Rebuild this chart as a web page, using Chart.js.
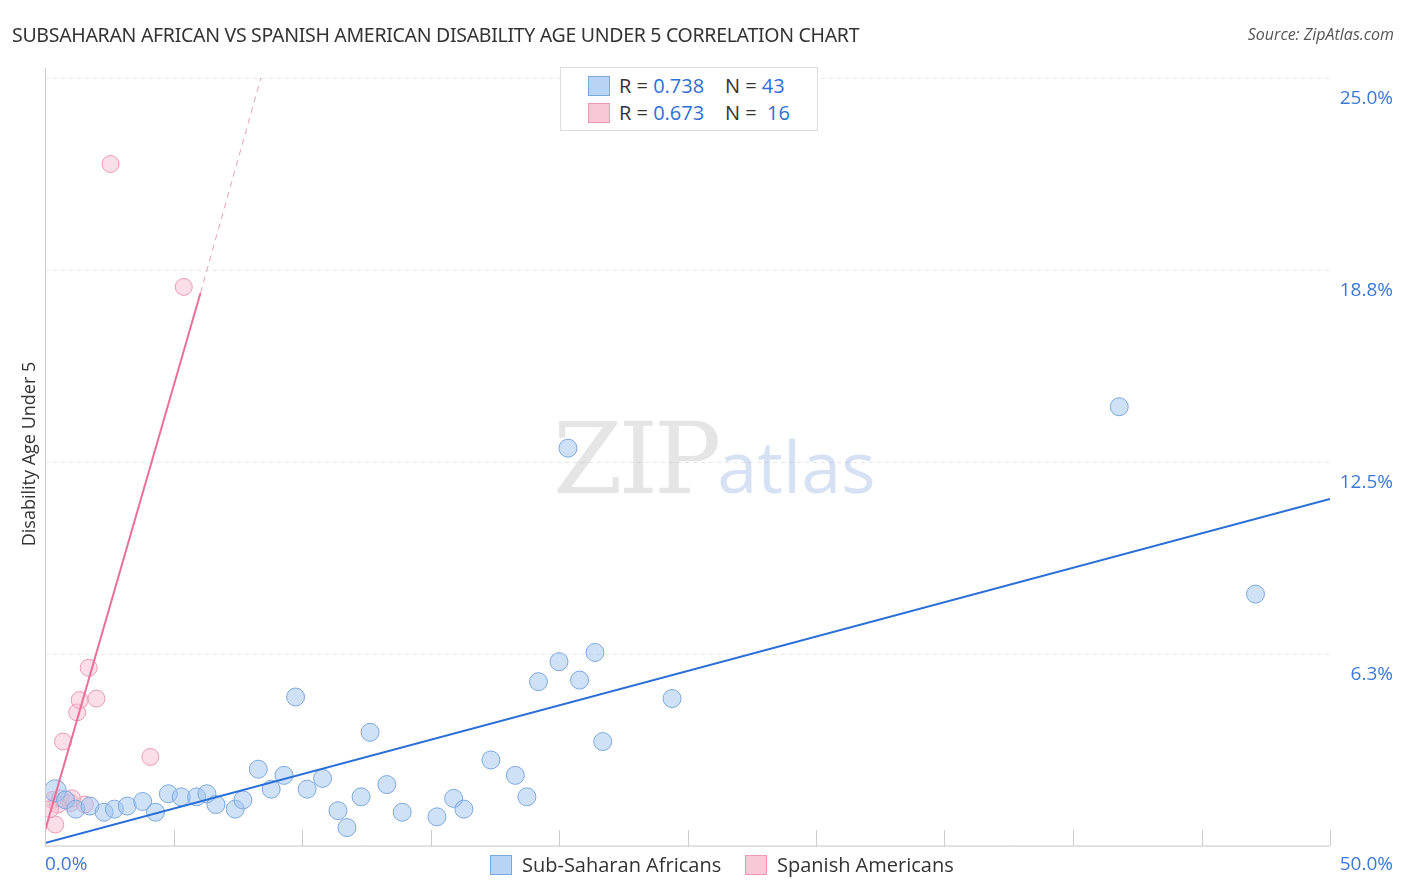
<!DOCTYPE html><html><head><meta charset="utf-8">
<script src="https://cdn.jsdelivr.net/npm/chart.js@4"></script>
<style>body{margin:0;background:#fff;font-family:"Open Sans",sans-serif}#w{position:relative;width:1406px;height:892px}
.t{position:absolute;white-space:nowrap}</style></head><body><div id="w">
<canvas id="c" width="1406" height="892"></canvas>
<div class="t" style="left:12px;top:21px;font-size:19.5px;color:#333;font-family:'Noto Sans',sans-serif;letter-spacing:-0.3px">SUBSAHARAN AFRICAN VS SPANISH AMERICAN DISABILITY AGE UNDER 5 CORRELATION CHART</div>
<div class="t" style="right:12px;top:23px;font-size:16px;color:#555;font-style:italic">Source: ZipAtlas.com</div>
<div class="t" style="left:560px;top:67px;width:256px;height:62px;border:1px solid #ddd;background:#fff;font-size:20px;color:#333">
<div style="position:absolute;left:27px;top:8px;width:20px;height:18px;background:#b8d4f5;border:1px solid #7aa8e0"></div>
<div style="position:absolute;left:58px;top:4px">R = <span style="color:#2f6fd6">0.738</span>&nbsp;&nbsp;&nbsp;&nbsp;N = <span style="color:#2f6fd6">43</span></div>
<div style="position:absolute;left:27px;top:35px;width:20px;height:18px;background:#f9c8d6;border:1px solid #eb9ab2"></div>
<div style="position:absolute;left:58px;top:31px">R = <span style="color:#2f6fd6">0.673</span>&nbsp;&nbsp;&nbsp;&nbsp;N = &nbsp;<span style="color:#2f6fd6">16</span></div></div>
<div class="t" style="left:490px;top:851px;font-size:20px;color:#333"><span style="display:inline-block;width:20px;height:18px;background:#b8d4f5;border:1px solid #7aa8e0;vertical-align:-3px;margin-right:10px"></span>Sub-Saharan Africans</div>
<div class="t" style="left:745px;top:851px;font-size:20px;color:#333"><span style="display:inline-block;width:20px;height:18px;background:#f9c8d6;border:1px solid #eb9ab2;vertical-align:-3px;margin-right:10px"></span>Spanish Americans</div>
<div class="t" style="top:442px;font-size:18px;color:#333;transform:rotate(-90deg);transform-origin:center;left:-72px;width:200px;text-align:center">Disability Age Under 5</div>
<div class="t" style="left:553px;top:400px;font-size:100px;font-family:'DejaVu Serif',serif;color:rgba(180,180,180,0.35);letter-spacing:-4px">ZIP<span style="font-family:'Open Sans';color:rgba(120,160,220,0.3);font-size:72px;letter-spacing:0">atlas</span></div>
</div>
<script>
const blueX=[0.4,0.8,1.2,1.75,2.3,2.7,3.2,3.8,4.3,4.8,5.3,5.9,6.3,6.65,7.4,7.7,8.3,8.8,9.3,9.75,10.2,10.8,11.4,11.75,12.3,12.65,13.3,13.9,15.25,15.9,16.3,17.35,18.3,18.75,19.2,20,20.35,20.8,21.4,21.7,24.4,41.8,47.1];
const blueY=[1.8,1.5,1.2,1.3,1.1,1.2,1.3,1.45,1.1,1.7,1.6,1.6,1.7,1.35,1.2,1.5,2.5,1.85,2.3,4.85,1.85,2.2,1.15,0.6,1.6,3.7,2.0,1.1,0.95,1.55,1.2,2.8,2.3,1.6,5.35,6.0,12.95,5.4,6.3,3.4,4.8,14.3,8.2];
const pinkX=[0.3,0.4,0.6,1,0.7,1.25,1.35,1.7,2,4.1,5.4,2.55,1.55,0.5,0.2,1.05];
const pinkY=[1.5,0.7,1.55,1.4,3.4,4.35,4.75,5.8,4.8,2.9,18.2,22.2,1.35,1.35,1.2,1.55];
const blueTrend=[[0,0.1],[50,11.3]];
const pinkTrend=[[0,0.5],[6.05,18.0]];
const pinkDash=[[6.05,18.0],[8.4,25]];
const yTicks=[6.25,12.5,18.75,25];const yLabels=["6.3%","12.5%","18.8%","25.0%"];
const pts=(xs,ys)=>xs.map((x,i)=>({x,y:ys[i]}));
const ln=a=>a.map(p=>({x:p[0],y:p[1]}));
const deco={id:'deco',afterDraw(c){const g=c.ctx,x=c.scales.x,y=c.scales.y;g.save();
g.strokeStyle='#ccc';g.lineWidth=1;g.beginPath();g.moveTo(45.5,68);g.lineTo(45.5,y.bottom);g.lineTo(x.right,y.bottom);g.stroke();
for(let v=5;v<=50;v+=5){const px=Math.round(x.getPixelForValue(v))+0.5;g.beginPath();g.moveTo(px,y.bottom);g.lineTo(px,y.bottom-16);g.stroke();}
g.fillStyle='#3b78d8';g.font='19px "Open Sans"';g.textAlign='right';
yTicks.forEach((v,i)=>g.fillText(yLabels[i],1393,y.getPixelForValue(v)+26));
g.textAlign='left';g.fillText('0.0%',45,870);g.textAlign='right';g.fillText('50.0%',1393,870);g.restore();}};
const bR=blueX.map((_,i)=>i===0?11:9);
new Chart(document.getElementById('c'),{type:'scatter',plugins:[deco],data:{datasets:[
{data:ln(blueTrend),type:'line',borderColor:'#2a6fd6',borderWidth:2,pointRadius:0},
{data:ln(pinkTrend),type:'line',borderColor:'#e8709a',borderWidth:2,pointRadius:0},
{data:ln(pinkDash),type:'line',borderColor:'#e8a0b8',borderWidth:1,borderDash:[6,5],pointRadius:0},
{data:pts(blueX,blueY),backgroundColor:'rgba(160,196,240,0.5)',borderColor:'#7aa8e0',borderWidth:1,pointRadius:bR},
{data:pts(pinkX,pinkY),backgroundColor:'rgba(248,190,208,0.5)',borderColor:'#eb9ab2',borderWidth:1,pointRadius:8.5}]},
options:{responsive:false,animation:false,layout:{padding:{left:45,top:78,right:0,bottom:0}},plugins:{legend:{display:false},tooltip:{enabled:false}},
scales:{x:{type:'linear',min:0,max:50,grid:{display:false},border:{display:false},ticks:{display:false},afterFit(s){s.height=46}},
y:{position:'right',min:0,max:25,grid:{color:'#e6e6e6',borderDash:[4,4],drawTicks:false},border:{display:false,dash:[4,4]},ticks:{display:false,stepSize:6.25},afterFit(s){s.width=76}}}}});
</script></body></html>
